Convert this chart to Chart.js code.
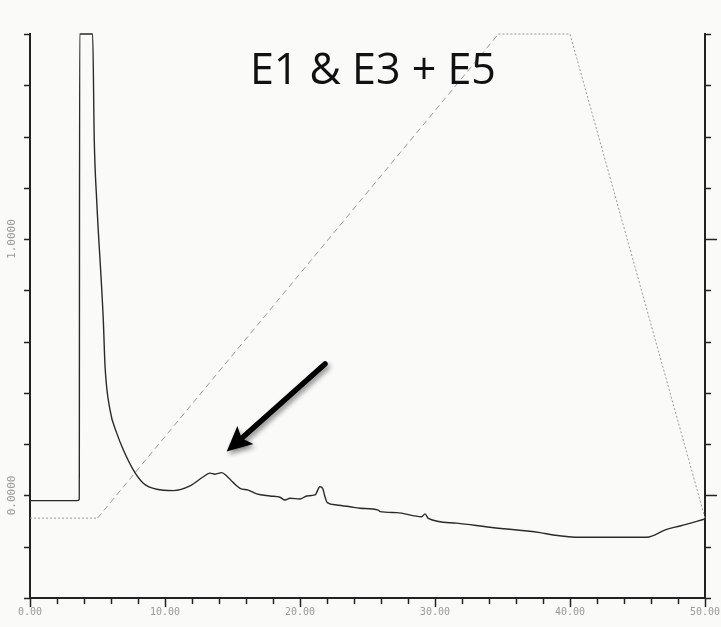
<!DOCTYPE html>
<html>
<head>
<meta charset="utf-8">
<script src="https://cdn.jsdelivr.net/npm/chart.js@4.4.1/dist/chart.umd.min.js"></script>
<style>
  html, body { margin: 0; padding: 0; background: #fafaf8; }
  canvas { display: block; }
</style>
</head>
<body>
<canvas id="chromatogram" width="721" height="627"></canvas>
<script>
// detector trace (minutes, AU)
var timeMin = [0, 3.48, 3.65, 3.68, 4.64, 4.76, 4.94, 5.43, 5.56, 5.93,
  6.42, 6.91, 7.65, 8.39, 9.39, 10.61, 11.85, 12.84, 13.33, 13.70,
  14.20, 14.57, 15.06, 15.56, 16.17, 16.79, 17.78, 18.52, 18.89, 19.26,
  20.0, 20.5, 21.11, 21.48, 21.68, 21.85, 22.02, 22.72, 23.70, 24.44,
  25.80, 25.93, 27.16, 29.01, 29.26, 29.50, 31.61, 34.07, 37.78, 38.76,
  40.74, 45.68, 47.16, 48.15, 50];
var signalAU = [-0.02, -0.02, -0.015, 1.8, 1.8, 1.387, 1.152, 0.684, 0.502, 0.333,
  0.244, 0.178, 0.100, 0.048, 0.024, 0.019, 0.037, 0.073, 0.087, 0.083,
  0.089, 0.076, 0.050, 0.028, 0.021, 0.006, -0.002, -0.007, -0.018, -0.011,
  -0.014, -0.002, 0.002, 0.034, 0.028, -0.005, -0.028, -0.037, -0.044, -0.050,
  -0.057, -0.063, -0.067, -0.083, -0.072, -0.089, -0.108, -0.124, -0.145, -0.154,
  -0.163, -0.163, -0.132, -0.119, -0.092];

// solvent gradient (% B)
var gradTime = [0, 5, 34.7, 40, 50];
var gradPctB = [0, 0, 100, 100, 0];

// axis labels
var xLabelEvery = 10;
var yLabelValues = [0, 1];
var titleText = 'E1 & E3 + E5';
// arrow annotation, tail -> head, in data units
var arrowFrom = { x: 21.85, y: 0.513 };
var arrowTo = { x: 14.57, y: 0.171 };
var titleAt = { x: 25.4, y: 1.605 };

var trace = timeMin.map(function (t, i) { return { x: t, y: signalAU[i] }; });
var gradient = gradTime.map(function (t, i) { return { x: t, y: gradPctB[i] }; });

var scanPlugin = {
  id: 'scan',
  afterDatasetsDraw: function (chart) {
    var ctx = chart.ctx;
    var sx = chart.scales.x, sy = chart.scales.y, sy1 = chart.scales.y1;
    ctx.save();
    ctx.strokeStyle = '#222';
    ctx.lineWidth = 1.5;
    // bottom ticks, longer at labelled values
    sx.ticks.forEach(function (t) {
      var px = Math.round(sx.getPixelForValue(t.value)) + 0.5;
      var len = t.value % xLabelEvery === 0 ? 9 : 6;
      ctx.beginPath(); ctx.moveTo(px, sx.top); ctx.lineTo(px, sx.top + len); ctx.stroke();
    });
    sy.ticks.forEach(function (t) {
      var py = Math.round(sy.getPixelForValue(t.value)) + 0.5;
      ctx.beginPath(); ctx.moveTo(sy.right - 6, py); ctx.lineTo(sy.right, py); ctx.stroke();
    });
    sy1.ticks.forEach(function (t) {
      var py = Math.round(sy1.getPixelForValue(t.value)) + 0.5;
      var major = yLabelValues.some(function (v) { return Math.abs(v - t.value) < 1e-6; });
      ctx.beginPath(); ctx.moveTo(sy1.left, py); ctx.lineTo(sy1.left + (major ? 12 : 6), py); ctx.stroke();
    });
    // rotated left labels
    ctx.fillStyle = '#9a9a9a';
    ctx.font = '11px "DejaVu Sans Mono"';
    ctx.textAlign = 'center';
    ctx.textBaseline = 'middle';
    yLabelValues.forEach(function (v) {
      ctx.save();
      ctx.translate(12, sy.getPixelForValue(v));
      ctx.rotate(-Math.PI / 2);
      ctx.fillText(v.toFixed(4), 0, 0);
      ctx.restore();
    });
    // title
    ctx.fillStyle = '#111';
    ctx.font = '43px "Open Sans"';
    ctx.textBaseline = 'alphabetic';
    ctx.fillText(titleText, sx.getPixelForValue(titleAt.x), sy.getPixelForValue(titleAt.y));
    // arrow
    var x0 = sx.getPixelForValue(arrowFrom.x), y0 = sy.getPixelForValue(arrowFrom.y);
    var x1 = sx.getPixelForValue(arrowTo.x), y1 = sy.getPixelForValue(arrowTo.y);
    var ang = Math.atan2(y1 - y0, x1 - x0);
    var head = 25, half = 12;
    var bx = x1 - head * Math.cos(ang), by = y1 - head * Math.sin(ang);
    ctx.shadowColor = 'rgba(0,0,0,0.45)';
    ctx.shadowBlur = 5;
    ctx.shadowOffsetX = 2;
    ctx.shadowOffsetY = 3;
    ctx.strokeStyle = '#000';
    ctx.fillStyle = '#000';
    ctx.lineWidth = 5.5;
    ctx.lineCap = 'round';
    ctx.beginPath(); ctx.moveTo(x0, y0); ctx.lineTo(bx + 6 * Math.cos(ang), by + 6 * Math.sin(ang)); ctx.stroke();
    ctx.beginPath();
    ctx.moveTo(x1, y1);
    ctx.lineTo(bx + half * Math.sin(ang), by - half * Math.cos(ang));
    ctx.lineTo(bx + 5 * Math.cos(ang), by + 5 * Math.sin(ang));
    ctx.lineTo(bx - half * Math.sin(ang), by + half * Math.cos(ang));
    ctx.closePath();
    ctx.fill();
    ctx.restore();
  }
};

var myChart = new Chart('chromatogram', {
  type: 'line',
  data: {
    datasets: [
      {
        label: 'Signal',
        data: trace,
        yAxisID: 'y',
        borderColor: '#2a2a2a',
        borderWidth: 1.4,
        pointRadius: 0,
        cubicInterpolationMode: 'monotone',
        clip: { left: 0, top: 3, right: 0, bottom: 0 }
      },
      {
        label: '%B',
        data: gradient,
        yAxisID: 'y2',
        borderColor: '#9a9a9a',
        borderWidth: 1,
        pointRadius: 0,
        tension: 0,
        clip: { left: 0, top: 3, right: 3, bottom: 0 },
        segment: {
          borderDash: function (c) { return c.p1.parsed.y > c.p0.parsed.y ? [6, 4] : [2, 2]; }
        }
      }
    ]
  },
  options: {
    responsive: false,
    animation: false,
    layout: { padding: { top: 34, right: 0, left: 0, bottom: 0 } },
    plugins: { legend: { display: false }, tooltip: { enabled: false } },
    scales: {
      x: {
        type: 'linear',
        min: 0, max: 50,
        grid: { display: false, drawTicks: false },
        border: { display: true, color: '#222', width: 2 },
        ticks: {
          stepSize: 2, autoSkip: false, maxRotation: 0, padding: 8,
          color: '#9a9a9a',
          font: { family: '"DejaVu Sans Mono"', size: 10 },
          callback: function (v) { return v % xLabelEvery === 0 ? v.toFixed(2) : ''; }
        },
        afterFit: function (s) { s.height = 29; s.paddingLeft = 0; s.paddingRight = 0; }
      },
      y: {
        position: 'left',
        min: -0.4, max: 1.8,
        grid: { display: false, drawTicks: false },
        border: { display: true, color: '#222', width: 2 },
        ticks: { stepSize: 0.2, display: false },
        afterFit: function (s) { s.width = 30; s.paddingTop = 0; s.paddingBottom = 0; }
      },
      y1: {
        position: 'right',
        min: -0.4, max: 1.8,
        grid: { display: false, drawTicks: false },
        border: { display: true, color: '#222', width: 2 },
        ticks: { stepSize: 0.2, display: false },
        afterFit: function (s) { s.width = 16; s.paddingTop = 0; s.paddingBottom = 0; }
      },
      y2: {
        display: false,
        min: -16.5, max: 100
      }
    }
  },
  plugins: [scanPlugin]
});
</script>
</body>
</html>
